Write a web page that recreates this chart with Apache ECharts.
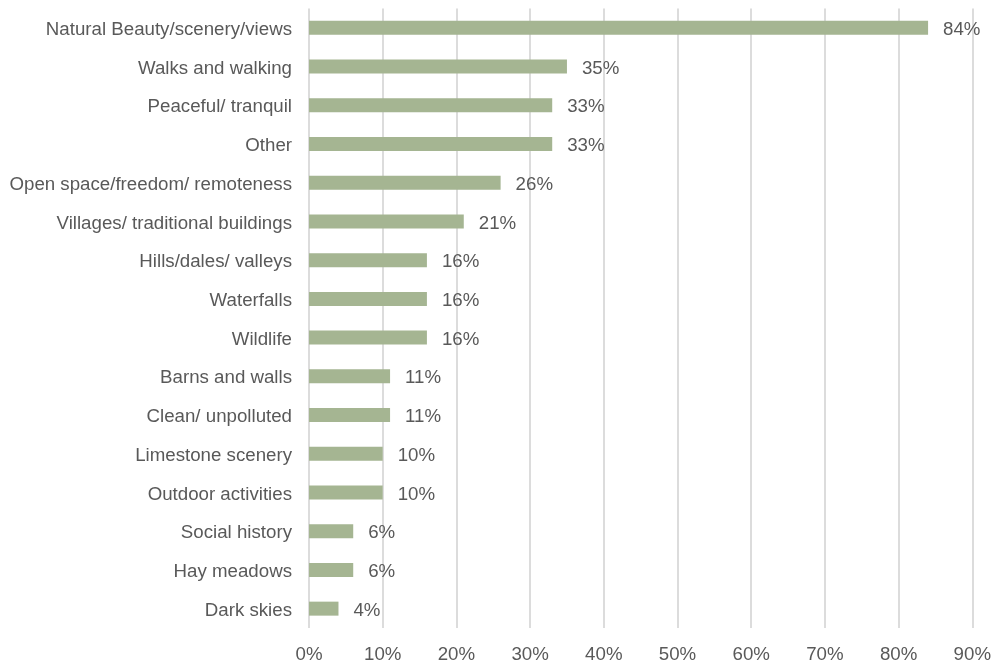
<!DOCTYPE html>
<html>
<head>
<meta charset="utf-8">
<script src="https://cdn.jsdelivr.net/npm/echarts@6/dist/echarts.min.js"></script>
<style>
  html, body { margin: 0; padding: 0; background: #ffffff; }
  #chart { width: 994px; height: 664px; }
</style>
</head>
<body>
<div id="chart"></div>
<script>
// Reasons for visiting, share of respondents (%), top to bottom
const categories = [
  'Natural Beauty/scenery/views',
  'Walks and walking',
  'Peaceful/ tranquil',
  'Other',
  'Open space/freedom/ remoteness',
  'Villages/ traditional buildings',
  'Hills/dales/ valleys',
  'Waterfalls',
  'Wildlife',
  'Barns and walls',
  'Clean/ unpolluted',
  'Limestone scenery',
  'Outdoor activities',
  'Social history',
  'Hay meadows',
  'Dark skies'
];
const values = [84, 35, 33, 33, 26, 21, 16, 16, 16, 11, 11, 10, 10, 6, 6, 4];
const xTicks = { min: 0, max: 90, interval: 10 };

const textColor = '#595959';
const fontFamily = '"Liberation Sans", Arial, sans-serif';
const fontSize = 18.7;

const chart = echarts.init(document.getElementById('chart'));
chart.setOption({
  animation: false,
  grid: { left: 309, right: 21, top: 8.5, bottom: 28.5, containLabel: false },
  xAxis: {
    type: 'value',
    min: xTicks.min,
    max: xTicks.max,
    interval: xTicks.interval,
    axisLine: { show: false },
    axisTick: { show: false },
    axisLabel: {
      formatter: v => v + '%',
      color: textColor, fontSize: fontSize, fontFamily: fontFamily, margin: 17
    },
    splitLine: { show: true, lineStyle: { color: '#dcdcdc', width: 2 } }
  },
  yAxis: {
    type: 'category',
    data: categories,
    inverse: true,
    axisLine: { show: false },
    axisTick: { show: false },
    axisLabel: {
      margin: 17,
      formatter: v => '{t|' + v + '}',
      rich: {
        t: {
          color: textColor, fontSize: fontSize, fontFamily: fontFamily,
          padding: [4, 0, 0, 0]
        }
      }
    }
  },
  series: [{
    type: 'bar',
    data: values,
    barWidth: 14,
    itemStyle: { color: '#a5b592' },
    label: {
      show: true,
      position: 'right',
      distance: 15,
      offset: [0, 2],
      formatter: p => p.value + '%',
      color: textColor, fontSize: fontSize, fontFamily: fontFamily
    }
  }]
});
</script>
</body>
</html>
